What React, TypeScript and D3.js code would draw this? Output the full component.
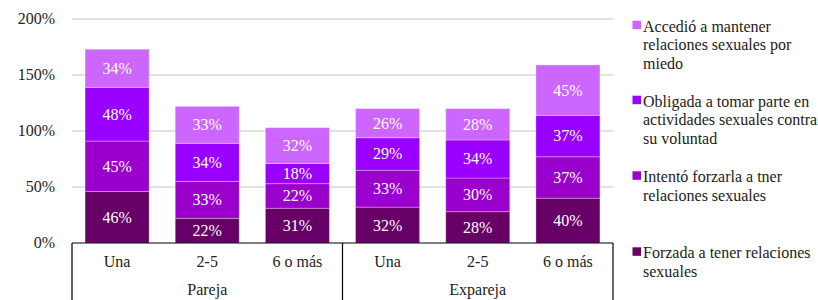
import React from "react";
import * as d3 from "d3";

const categories = ["Una", "2-5", "6 o más", "Una", "2-5", "6 o más"];
const groups = ["Pareja", "Expareja"];
const forzada = [46, 22, 31, 32, 28, 40];
const intento = [45, 33, 22, 33, 30, 37];
const obligada = [48, 34, 18, 29, 34, 37];
const accedio = [34, 33, 32, 26, 28, 45];
const yTicks = [0, 50, 100, 150, 200];

const seriesKeys = ["forzada", "intento", "obligada", "accedio"];
const seriesColors = ["#660066", "#9900CC", "#9900FF", "#CC66FF"];
const legendLines = [
  ["Accedió a mantener", "relaciones sexuales por", "miedo"],
  ["Obligada a tomar parte en", "actividades sexuales contra", "su voluntad"],
  ["Intentó forzarla a tner", "relaciones sexuales"],
  ["Forzada a tener relaciones", "sexuales"],
];
const legendColors = ["#CC66FF", "#9900FF", "#9900CC", "#660066"];

const W = 818;
const H = 300;
const left = 72;
const right = 613;
const top = 19;
const bottom = 243;
const FONT = '"Liberation Serif", "Times New Roman", Times, serif';

export default function App() {
  const rows = categories.map((c, i) => ({
    idx: String(i),
    forzada: forzada[i],
    intento: intento[i],
    obligada: obligada[i],
    accedio: accedio[i],
  }));
  const stack = d3.stack<any>().keys(seriesKeys)(rows);
  const x = d3
    .scaleBand<string>()
    .domain(rows.map((r) => r.idx))
    .range([left, right])
    .paddingInner(0.29)
    .paddingOuter(0.145);
  const y = d3.scaleLinear().domain([0, 200]).range([bottom, top]);
  const groupW = (right - left) / groups.length;
  const ts = { fontFamily: FONT, fontSize: "16px" };

  return (
    <svg
      width={W}
      height={H}
      style={{ position: "absolute", left: 0, top: 0, background: "#fff", fontFamily: FONT }}
    >
      {yTicks.map((t) => (
        <g key={t}>
          {t > 0 && (
            <line x1={left} x2={right} y1={y(t)} y2={y(t)} stroke="#d9d9d9" strokeWidth={1.3} />
          )}
          <text x={55} y={y(t)} dy="0.33em" textAnchor="end" style={ts} fill="#222">
            {t}%
          </text>
        </g>
      ))}
      {stack.map((s, si) => (
        <g key={s.key}>
          {s.map((d, i) => {
            const x0 = x(String(i))!;
            const y0 = y(d[1]);
            const h = y(d[0]) - y(d[1]);
            return (
              <g key={i}>
                <rect
                  x={x0}
                  y={y0}
                  width={x.bandwidth()}
                  height={h}
                  fill={seriesColors[si]}
                  stroke="rgba(255,255,255,0.3)"
                  strokeWidth={1}
                />
                <text
                  x={x0 + x.bandwidth() / 2}
                  y={y0 + h / 2}
                  dy="0.34em"
                  textAnchor="middle"
                  style={ts}
                  fill="#fff"
                >
                  {d[1] - d[0]}%
                </text>
              </g>
            );
          })}
        </g>
      ))}
      <line x1={left} x2={right} y1={bottom} y2={bottom} stroke="#000" strokeWidth={1.2} />
      {[0, 1, 2].map((k) => (
        <line
          key={k}
          x1={left + k * groupW}
          x2={left + k * groupW}
          y1={bottom}
          y2={H}
          stroke="#000"
          strokeWidth={1.2}
        />
      ))}
      {categories.map((c, i) => (
        <text
          key={i}
          x={x(String(i))! + x.bandwidth() / 2}
          y={267}
          textAnchor="middle"
          style={ts}
          fill="#222"
        >
          {c}
        </text>
      ))}
      {groups.map((g, i) => (
        <text key={g} x={left + groupW * (i + 0.5)} y={295} textAnchor="middle" style={ts} fill="#222">
          {g}
        </text>
      ))}
      {legendLines.map((lines, i) => {
        const base = [31.7, 106.7, 182.3, 258.3][i];
        return (
          <g key={i}>
            <rect x={632.5} y={base - 11} width={8.5} height={8.5} fill={legendColors[i]} />
            {lines.map((ln, j) => (
              <text key={j} x={643} y={base + j * 18.5} style={ts} fill="#222">
                {ln}
              </text>
            ))}
          </g>
        );
      })}
    </svg>
  );
}
